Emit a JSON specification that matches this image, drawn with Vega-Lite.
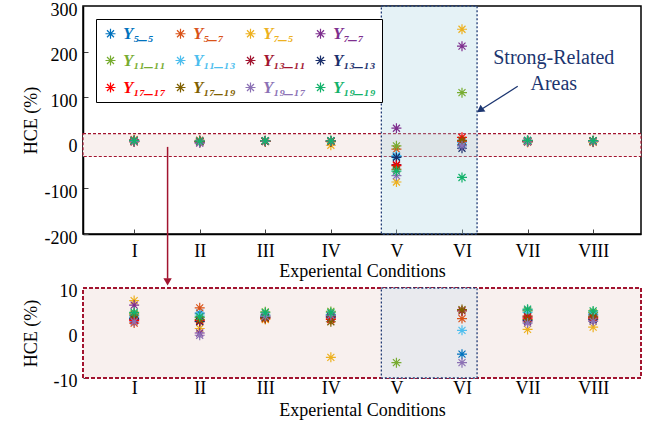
{
  "$schema": "https://vega.github.io/schema/vega-lite/v6.json",
  "background": "white",
  "padding": {"left": 21, "top": 0, "right": 10, "bottom": 10},
  "bounds": "flush",
  "spacing": 54,
  "resolve": {"legend": {"color": "independent"}},
  "config": {
    "view": {"stroke": null},
    "axis": {"labelFont": "Liberation Serif", "titleFont": "Liberation Serif", "labelFontSize": 18, "titleFontSize": 18, "titleFontWeight": "normal", "labelColor": "#000", "titleColor": "#000", "grid": false, "tickColor": "#444", "domainColor": "#000"},
    "text": {"font": "Liberation Serif"}
  },
  "datasets": {
    "hce": [
      {"c":1,"s":"Y₅_₅","v":3.5},{"c":1,"s":"Y₅_₇","v":2.2},{"c":1,"s":"Y₇_₅","v":7.2},{"c":1,"s":"Y₇_₇","v":6.2},{"c":1,"s":"Y₁₁_₁₁","v":4.3},{"c":1,"s":"Y₁₁_₁₃","v":3.8},{"c":1,"s":"Y₁₃_₁₁","v":3.0},{"c":1,"s":"Y₁₃_₁₃","v":3.2},{"c":1,"s":"Y₁₇_₁₇","v":2.8},{"c":1,"s":"Y₁₇_₁₉","v":4.0},{"c":1,"s":"Y₁₉_₁₇","v":2.5},{"c":1,"s":"Y₁₉_₁₉","v":4.6},
      {"c":2,"s":"Y₅_₅","v":4.4},{"c":2,"s":"Y₅_₇","v":5.6},{"c":2,"s":"Y₇_₅","v":1.0},{"c":2,"s":"Y₇_₇","v":0.0},{"c":2,"s":"Y₁₁_₁₁","v":3.4},{"c":2,"s":"Y₁₁_₁₃","v":4.0},{"c":2,"s":"Y₁₃_₁₁","v":2.5},{"c":2,"s":"Y₁₃_₁₃","v":2.6},{"c":2,"s":"Y₁₇_₁₇","v":2.8},{"c":2,"s":"Y₁₇_₁₉","v":3.0},{"c":2,"s":"Y₁₉_₁₇","v":-0.5},{"c":2,"s":"Y₁₉_₁₉","v":3.6},
      {"c":3,"s":"Y₅_₅","v":4.0},{"c":3,"s":"Y₅_₇","v":3.8},{"c":3,"s":"Y₇_₅","v":3.0},{"c":3,"s":"Y₇_₇","v":3.6},{"c":3,"s":"Y₁₁_₁₁","v":4.7},{"c":3,"s":"Y₁₁_₁₃","v":3.9},{"c":3,"s":"Y₁₃_₁₁","v":3.4},{"c":3,"s":"Y₁₃_₁₃","v":3.5},{"c":3,"s":"Y₁₇_₁₇","v":3.2},{"c":3,"s":"Y₁₇_₁₉","v":3.3},{"c":3,"s":"Y₁₉_₁₇","v":3.7},{"c":3,"s":"Y₁₉_₁₉","v":4.5},
      {"c":4,"s":"Y₅_₅","v":4.1},{"c":4,"s":"Y₅_₇","v":3.2},{"c":4,"s":"Y₇_₅","v":-5.4},{"c":4,"s":"Y₇_₇","v":3.8},{"c":4,"s":"Y₁₁_₁₁","v":4.8},{"c":4,"s":"Y₁₁_₁₃","v":4.0},{"c":4,"s":"Y₁₃_₁₁","v":3.5},{"c":4,"s":"Y₁₃_₁₃","v":3.6},{"c":4,"s":"Y₁₇_₁₇","v":3.0},{"c":4,"s":"Y₁₇_₁₉","v":2.5},{"c":4,"s":"Y₁₉_₁₇","v":3.9},{"c":4,"s":"Y₁₉_₁₉","v":4.5},
      {"c":5,"s":"Y₅_₅","v":-30},{"c":5,"s":"Y₅_₇","v":-14},{"c":5,"s":"Y₇_₅","v":-86},{"c":5,"s":"Y₇_₇","v":32},{"c":5,"s":"Y₁₁_₁₁","v":-6.6},{"c":5,"s":"Y₁₁_₁₃","v":-28},{"c":5,"s":"Y₁₃_₁₁","v":-48},{"c":5,"s":"Y₁₃_₁₃","v":-32},{"c":5,"s":"Y₁₇_₁₇","v":-50},{"c":5,"s":"Y₁₇_₁₉","v":-58},{"c":5,"s":"Y₁₉_₁₇","v":-72},{"c":5,"s":"Y₁₉_₁₉","v":-62},
      {"c":6,"s":"Y₅_₅","v":-4.7},{"c":6,"s":"Y₅_₇","v":3.2},{"c":6,"s":"Y₇_₅","v":249},{"c":6,"s":"Y₇_₇","v":212},{"c":6,"s":"Y₁₁_₁₁","v":110},{"c":6,"s":"Y₁₁_₁₃","v":0.6},{"c":6,"s":"Y₁₃_₁₁","v":4.9},{"c":6,"s":"Y₁₃_₁₃","v":-12},{"c":6,"s":"Y₁₇_₁₇","v":12},{"c":6,"s":"Y₁₇_₁₉","v":5.2},{"c":6,"s":"Y₁₉_₁₇","v":-6.6},{"c":6,"s":"Y₁₉_₁₉","v":-76},
      {"c":7,"s":"Y₅_₅","v":5.1},{"c":7,"s":"Y₅_₇","v":3.8},{"c":7,"s":"Y₇_₅","v":0.8},{"c":7,"s":"Y₇_₇","v":2.5},{"c":7,"s":"Y₁₁_₁₁","v":4.9},{"c":7,"s":"Y₁₁_₁₃","v":4.6},{"c":7,"s":"Y₁₃_₁₁","v":3.6},{"c":7,"s":"Y₁₃_₁₃","v":2.8},{"c":7,"s":"Y₁₇_₁₇","v":3.3},{"c":7,"s":"Y₁₇_₁₉","v":3.0},{"c":7,"s":"Y₁₉_₁₇","v":2.2},{"c":7,"s":"Y₁₉_₁₉","v":5.3},
      {"c":8,"s":"Y₅_₅","v":4.2},{"c":8,"s":"Y₅_₇","v":3.8},{"c":8,"s":"Y₇_₅","v":1.3},{"c":8,"s":"Y₇_₇","v":2.9},{"c":8,"s":"Y₁₁_₁₁","v":4.6},{"c":8,"s":"Y₁₁_₁₃","v":4.0},{"c":8,"s":"Y₁₃_₁₁","v":3.5},{"c":8,"s":"Y₁₃_₁₃","v":3.1},{"c":8,"s":"Y₁₇_₁₇","v":3.3},{"c":8,"s":"Y₁₇_₁₉","v":3.6},{"c":8,"s":"Y₁₉_₁₇","v":2.6},{"c":8,"s":"Y₁₉_₁₉","v":4.9}
    ]
  },
  "vconcat": [
    {
      "width": 558,
      "height": 228,
      "view": {"stroke": "#000", "strokeWidth": 1.5},
      "layer": [
        {
          "data": {"values": [{"v": -30, "v2": 20}]},
          "mark": {"type": "rect", "fill": "#F8F0EE", "stroke": "#A2142F", "strokeWidth": 1.2, "strokeDash": [3, 2]},
          "encoding": {
            "y": {"field": "v", "type": "quantitative", "scale": {"domain": [-200, 300], "nice": false}, "title": "HCE (%)"},
            "y2": {"field": "v2"}
          }
        },
        {
          "data": {"values": [{"c": 4.77, "c2": 6.23}]},
          "mark": {"type": "rect", "fill": "#A9D5E2", "fillOpacity": 0.3, "stroke": "#1F3A75", "strokeWidth": 1.3, "strokeDash": [2, 2]},
          "encoding": {
            "x": {"field": "c", "type": "quantitative", "scale": {"domain": [0.22, 8.73], "nice": false, "zero": false}, "title": "Experiental Conditions"},
            "x2": {"field": "c2"}
          }
        },
        {
          "data": {"name": "hce"},
          "mark": {"type": "point", "shape": "M-1,0L1,0M0,-1L0,1M-0.7,-0.7L0.7,0.7M-0.7,0.7L0.7,-0.7", "filled": false, "size": 100, "strokeWidth": 1.2, "opacity": 1, "clip": true},
          "encoding": {
            "x": {"field": "c", "type": "quantitative", "scale": {"domain": [0.22, 8.73], "nice": false, "zero": false}, "title": "Experiental Conditions",
              "axis": {"values": [1,2,3,4,5,6,7,8], "labelExpr": "['I','II','III','IV','V','VI','VII','VIII'][datum.value-1]", "tickSize": -5, "labelPadding": 13, "titlePadding": 2, "domainWidth": 1.5}},
            "y": {"field": "v", "type": "quantitative", "scale": {"domain": [-200, 300], "nice": false}, "title": "HCE (%)",
              "axis": {"values": [-200,-100,0,100,200,300], "labelExpr": "'' + datum.value", "tickSize": -5, "labelPadding": 11, "titlePadding": 4, "labelOffset": 4, "domainWidth": 1.5}},
            "color": {"field": "s", "type": "nominal",
              "scale": {"domain": ["Y₅_₅","Y₅_₇","Y₇_₅","Y₇_₇","Y₁₁_₁₁","Y₁₁_₁₃","Y₁₃_₁₁","Y₁₃_₁₃","Y₁₇_₁₇","Y₁₇_₁₉","Y₁₉_₁₇","Y₁₉_₁₉"],
                "range": ["#0072BD","#D95319","#EDB120","#7E2F8E","#77AC30","#4DBEEE","#A2142F","#1B2F6B","#FF0000","#7F6000","#8C72B5","#13B26B"]},
              "legend": {"orient": "none", "legendX": 13, "legendY": 13, "columns": 4, "direction": "horizontal", "gridAlign": "all", "title": null,
                "symbolType": "M-1,0L1,0M0,-1L0,1M-0.7,-0.7L0.7,0.7M-0.7,0.7L0.7,-0.7", "symbolSize": 100, "symbolStrokeWidth": 1.2,
                "labelFont": "Liberation Serif, DejaVu Serif", "labelFontSize": 17, "labelFontWeight": "bold", "labelFontStyle": "italic",
                "labelColor": {"expr": "scale('color', datum.value)"},
                "strokeColor": "#000", "fillColor": "#fff", "padding": 6, "columnPadding": 6, "rowPadding": 9, "labelOffset": 4}}
          }
        },
        {
          "data": {"values": [{"c": 7.40, "v": 186, "t": "Strong-Related"}, {"c": 7.40, "v": 130, "t": "Areas"}]},
          "mark": {"type": "text", "font": "Liberation Serif", "fontSize": 20, "color": "#1B3570"},
          "encoding": {
            "x": {"field": "c", "type": "quantitative", "scale": {"domain": [0.22, 8.73], "nice": false, "zero": false}, "title": "Experiental Conditions"},
            "y": {"field": "v", "type": "quantitative", "scale": {"domain": [-200, 300], "nice": false}, "title": "HCE (%)"},
            "text": {"field": "t"}
          }
        },
        {
          "data": {"values": [{"c": 6.85, "v": 124}, {"c": 6.28, "v": 72}]},
          "mark": {"type": "line", "color": "#1B3570", "strokeWidth": 1.3},
          "encoding": {
            "x": {"field": "c", "type": "quantitative", "scale": {"domain": [0.22, 8.73], "nice": false, "zero": false}, "title": "Experiental Conditions"},
            "y": {"field": "v", "type": "quantitative", "scale": {"domain": [-200, 300], "nice": false}, "title": "HCE (%)"}
          }
        },
        {
          "data": {"values": [{"c": 6.29, "v": 73}]},
          "mark": {"type": "point", "shape": "triangle", "filled": true, "size": 70, "color": "#1B3570", "opacity": 1, "angle": 234},
          "encoding": {
            "x": {"field": "c", "type": "quantitative", "scale": {"domain": [0.22, 8.73], "nice": false, "zero": false}, "title": "Experiental Conditions"},
            "y": {"field": "v", "type": "quantitative", "scale": {"domain": [-200, 300], "nice": false}, "title": "HCE (%)"}
          }
        },
        {
          "data": {"values": [{"c": 1.51, "v": -9}, {"c": 1.51, "v": -298}]},
          "mark": {"type": "line", "color": "#A2142F", "strokeWidth": 1.5, "clip": false},
          "encoding": {
            "x": {"field": "c", "type": "quantitative", "scale": {"domain": [0.22, 8.73], "nice": false, "zero": false}, "title": "Experiental Conditions"},
            "y": {"field": "v", "type": "quantitative", "scale": {"domain": [-200, 300], "nice": false}, "title": "HCE (%)"}
          }
        },
        {
          "data": {"values": [{"c": 1.51, "v": -305}]},
          "mark": {"type": "point", "shape": "triangle-down", "filled": true, "size": 70, "color": "#A2142F", "opacity": 1, "clip": false},
          "encoding": {
            "x": {"field": "c", "type": "quantitative", "scale": {"domain": [0.22, 8.73], "nice": false, "zero": false}, "title": "Experiental Conditions"},
            "y": {"field": "v", "type": "quantitative", "scale": {"domain": [-200, 300], "nice": false}, "title": "HCE (%)"}
          }
        }
      ]
    },
    {
      "width": 558,
      "height": 90,
      "layer": [
        {
          "data": {"values": [{"v": -10, "v2": 10}]},
          "mark": {"type": "rect", "fill": "#F8F0EE", "stroke": "#A2142F", "strokeWidth": 2, "strokeDash": [4, 2]},
          "encoding": {
            "y": {"field": "v", "type": "quantitative", "scale": {"domain": [-10, 10], "nice": false}, "title": "HCE (%)"},
            "y2": {"field": "v2"}
          }
        },
        {
          "data": {"values": [{"c": 4.77, "c2": 6.23}]},
          "mark": {"type": "rect", "fill": "#E9EAEE", "stroke": "#1F3A75", "strokeWidth": 1.3, "strokeDash": [2, 2]},
          "encoding": {
            "x": {"field": "c", "type": "quantitative", "scale": {"domain": [0.22, 8.73], "nice": false, "zero": false}, "title": "Experiental Conditions"},
            "x2": {"field": "c2"}
          }
        },
        {
          "data": {"name": "hce"},
          "mark": {"type": "point", "shape": "M-1,0L1,0M0,-1L0,1M-0.7,-0.7L0.7,0.7M-0.7,0.7L0.7,-0.7", "filled": false, "size": 100, "strokeWidth": 1.2, "opacity": 1, "clip": true},
          "encoding": {
            "x": {"field": "c", "type": "quantitative", "scale": {"domain": [0.22, 8.73], "nice": false, "zero": false}, "title": "Experiental Conditions",
              "axis": {"values": [1,2,3,4,5,6,7,8], "labelExpr": "['I','II','III','IV','V','VI','VII','VIII'][datum.value-1]", "tickSize": -5, "labelPadding": 6, "titlePadding": 4, "domain": false}},
            "y": {"field": "v", "type": "quantitative", "scale": {"domain": [-10, 10], "nice": false}, "title": "HCE (%)",
              "axis": {"values": [-10, 0, 10], "labelExpr": "'' + datum.value", "tickSize": -5, "labelPadding": 11, "titlePadding": 13, "labelOffset": 3, "domain": false}},
            "color": {"field": "s", "type": "nominal",
              "scale": {"domain": ["Y₅_₅","Y₅_₇","Y₇_₅","Y₇_₇","Y₁₁_₁₁","Y₁₁_₁₃","Y₁₃_₁₁","Y₁₃_₁₃","Y₁₇_₁₇","Y₁₇_₁₉","Y₁₉_₁₇","Y₁₉_₁₉"],
                "range": ["#0072BD","#D95319","#EDB120","#7E2F8E","#77AC30","#4DBEEE","#A2142F","#1B2F6B","#FF0000","#7F6000","#8C72B5","#13B26B"]},
              "legend": null}
          }
        }
      ]
    }
  ]
}
